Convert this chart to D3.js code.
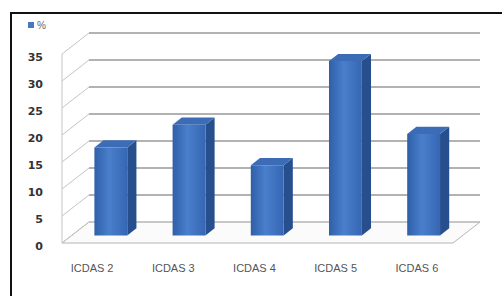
<!DOCTYPE html>
<html>
<head>
<meta charset="utf-8">
<script src="https://cdn.jsdelivr.net/npm/d3@7"></script>
<style>
  body { margin: 0; background: #fff; }
  svg { display: block; }
</style>
</head>
<body>
<script>
var categories = ["ICDAS 2", "ICDAS 3", "ICDAS 4", "ICDAS 5", "ICDAS 6"]
var values = [16.3, 20.5, 13, 32.3, 18.8]
var yTicks = [0, 5, 10, 15, 20, 25, 30, 35]
var seriesName = "%"

var width = 502
var height = 296
// depth offset of the 3D box (back wall relative to front)
var depthX = 27
var depthY = -21

var svg = d3.select("body").append("svg")
  .attr("width", width)
  .attr("height", height)

var x = d3.scaleBand()
  .domain(categories)
  .range([62, 453])
  .paddingInner(0.58)
  .paddingOuter(0.29)

var xc = d3.scaleBand().domain(categories).range([62, 453])

var y = d3.scaleLinear()
  .domain([0, 35])
  .range([243, 54])

function proj(px, v, d) {
  return [px + depthX * d, y(v) + depthY * d]
}

var defs = svg.append("defs")
var grad = defs.append("linearGradient").attr("id", "front")
  .attr("x1", "0").attr("x2", "1").attr("y1", "0").attr("y2", "0")
grad.append("stop").attr("offset", "0").attr("stop-color", "#2f5fa8")
grad.append("stop").attr("offset", "0.45").attr("stop-color", "#4a7fcc")
grad.append("stop").attr("offset", "1").attr("stop-color", "#3566b3")

// outer frame
svg.append("rect")
  .attr("x", 11).attr("y", 13)
  .attr("width", 520).attr("height", 320)
  .attr("fill", "none")
  .attr("stroke", "#111")
  .attr("stroke-width", 2)

// floor
var x0 = xc.range()[0], x1 = xc.range()[1]
var floorPts = [proj(x0, 0, 0), proj(x1, 0, 0), proj(x1, 0, 1), proj(x0, 0, 1)]
svg.append("polygon")
  .attr("points", floorPts.map(function (p) { return p.join(",") }).join(" "))
  .attr("fill", "#fbfbfb")
  .attr("stroke", "#b5b5b5")
  .attr("stroke-width", 1)

// left wall front edge
svg.append("line")
  .attr("x1", x0).attr("x2", x0)
  .attr("y1", y(35)).attr("y2", y(0))
  .attr("stroke", "#c4c4c4")

// gridlines: back wall and side wall diagonals
yTicks.forEach(function (t) {
  var a = proj(x0, t, 0), b = proj(x0, t, 1), c = proj(x1, t, 1)
  svg.append("line")
    .attr("x1", a[0]).attr("y1", a[1]).attr("x2", b[0]).attr("y2", b[1])
    .attr("stroke", "#c4c4c4")
  svg.append("line")
    .attr("x1", b[0]).attr("y1", b[1]).attr("x2", c[0]).attr("y2", c[1])
    .attr("stroke", t === 0 ? "#b5b5b5" : "#999")
    .attr("stroke-width", t === 0 ? 1 : 1.3)
})

// y labels
svg.selectAll(".ylab")
  .data(yTicks)
  .enter().append("text")
  .attr("class", "ylab")
  .attr("x", 43)
  .attr("y", function (d) { return y(d) + 3 })
  .attr("dy", "0.35em")
  .attr("text-anchor", "end")
  .attr("font-family", "DejaVu Sans, sans-serif")
  .attr("font-size", 11)
  .attr("font-weight", "bold")
  .attr("fill", "#333")
  .text(function (d) { return d })

// 3D bars
var d0 = 0.36, d1 = 0.70
var bars = svg.selectAll(".bar")
  .data(categories.map(function (c, i) { return { cat: c, v: values[i] } }))
  .enter().append("g")
  .attr("class", "bar")

function poly(pts) { return pts.map(function (p) { return p.join(",") }).join(" ") }

bars.append("polygon")
  .attr("points", function (d) {
    var r = x(d.cat) + x.bandwidth()
    return poly([proj(r, 0, d0), proj(r, 0, d1), proj(r, d.v, d1), proj(r, d.v, d0)])
  })
  .attr("fill", "#274f8e")

bars.append("polygon")
  .attr("points", function (d) {
    var l = x(d.cat), r = l + x.bandwidth()
    return poly([proj(l, d.v, d0), proj(r, d.v, d0), proj(r, d.v, d1), proj(l, d.v, d1)])
  })
  .attr("fill", "#3c6cb6")

bars.append("polygon")
  .attr("points", function (d) {
    var l = x(d.cat), r = l + x.bandwidth()
    return poly([proj(l, 0, d0), proj(r, 0, d0), proj(r, d.v, d0), proj(l, d.v, d0)])
  })
  .attr("fill", "url(#front)")

// x labels
svg.selectAll(".xlab")
  .data(categories)
  .enter().append("text")
  .attr("class", "xlab")
  .attr("x", function (d, i) { return xc(d) + xc.bandwidth() / 2 - 9 + i * 3 })
  .attr("y", 272)
  .attr("text-anchor", "middle")
  .attr("font-family", "Liberation Sans, sans-serif")
  .attr("font-size", 11)
  .attr("fill", "#555")
  .text(function (d) { return d })

// legend
svg.append("rect")
  .attr("x", 28).attr("y", 22)
  .attr("width", 6).attr("height", 6)
  .attr("fill", "#4a78c0")
svg.append("text")
  .attr("x", 37).attr("y", 29)
  .attr("font-family", "Liberation Sans, sans-serif")
  .attr("font-size", 10)
  .attr("fill", "#666")
  .text(seriesName)
</script>
</body>
</html>
